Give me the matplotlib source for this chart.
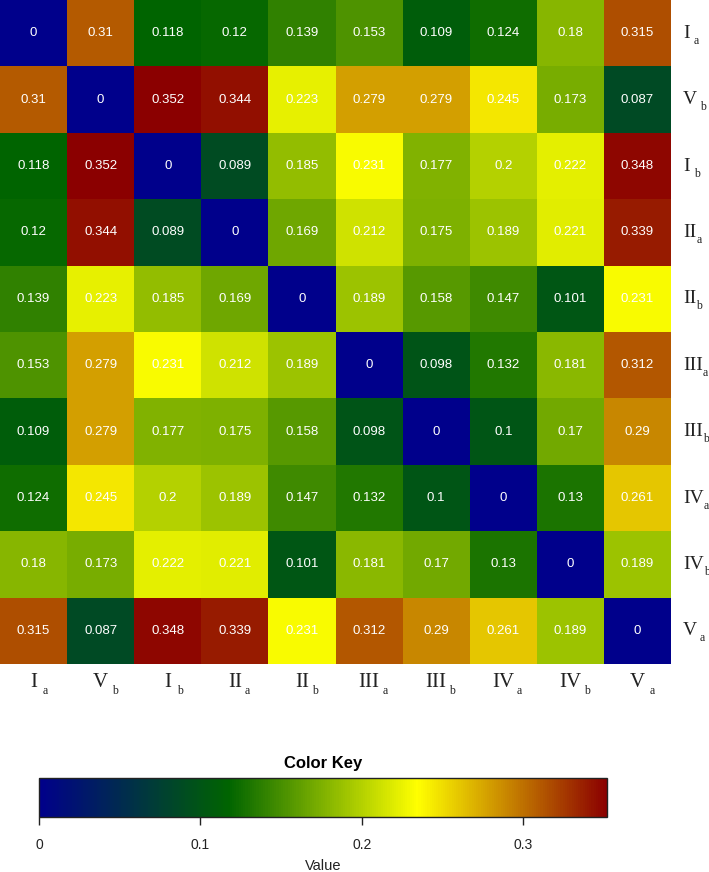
"""Distance heatmap with a horizontal colour key underneath."""

import matplotlib

matplotlib.use("Agg")
import matplotlib.pyplot as plt
import numpy as np
from matplotlib.colors import LinearSegmentedColormap, Normalize
from matplotlib.cm import ScalarMappable
from matplotlib.transforms import blended_transform_factory

plt.rcParams["font.family"] = ["Liberation Sans", "DejaVu Sans"]

# labels: roman numeral + subscript letter (same order for rows and columns)
numerals = ["I", "V", "I", "II", "II", "III", "III", "IV", "IV", "V"]
subscripts = ["a", "b", "b", "a", "b", "a", "b", "a", "b", "a"]

distances = np.array([
    [0, 0.31, 0.118, 0.12, 0.139, 0.153, 0.109, 0.124, 0.18, 0.315],
    [0.31, 0, 0.352, 0.344, 0.223, 0.279, 0.279, 0.245, 0.173, 0.087],
    [0.118, 0.352, 0, 0.089, 0.185, 0.231, 0.177, 0.2, 0.222, 0.348],
    [0.12, 0.344, 0.089, 0, 0.169, 0.212, 0.175, 0.189, 0.221, 0.339],
    [0.139, 0.223, 0.185, 0.169, 0, 0.189, 0.158, 0.147, 0.101, 0.231],
    [0.153, 0.279, 0.231, 0.212, 0.189, 0, 0.098, 0.132, 0.181, 0.312],
    [0.109, 0.279, 0.177, 0.175, 0.158, 0.098, 0, 0.1, 0.17, 0.29],
    [0.124, 0.245, 0.2, 0.189, 0.147, 0.132, 0.1, 0, 0.13, 0.261],
    [0.18, 0.173, 0.222, 0.221, 0.101, 0.181, 0.17, 0.13, 0, 0.189],
    [0.315, 0.087, 0.348, 0.339, 0.231, 0.312, 0.29, 0.261, 0.189, 0],
])

key_ticks = [0, 0.1, 0.2, 0.3]

W, H = 709, 872
cmap = LinearSegmentedColormap.from_list(
    "key", ["darkblue", "darkgreen", "yellow", "darkred"], N=256
)
norm = Normalize(vmin=0, vmax=distances.max())

fig = plt.figure(figsize=(W / 100, H / 100), dpi=100)

# heatmap occupies x 0..671 px, y 0..664 px (from top)
ax = fig.add_axes([0, 1 - 664 / H, 671 / W, 664 / H])
n = len(numerals)
ax.pcolormesh(np.arange(n + 1), np.arange(n + 1), distances, cmap=cmap, norm=norm)
ax.set_xlim(0, n)
ax.set_ylim(n, 0)
ax.axis("off")

for i in range(n):
    for j in range(n):
        ax.text(j + 0.5, i + 0.5, f"{distances[i, j]:g}", color="white",
                ha="center", va="center", fontsize=9.5)


def add_label(x, y, transform, numeral, sub, ha, size, gaps, gap_default):
    t = ax.text(x, y, numeral, transform=transform, ha=ha, va="center",
                family="Liberation Serif", fontsize=size, color="#222222")
    ax.annotate(sub, xy=(1, 0), xycoords=t,
                xytext=(gaps.get(numeral, gap_default), -1.5),
                textcoords="offset points", ha="left", va="baseline",
                annotation_clip=False, family="Liberation Serif",
                fontsize=8.5, color="#222222")


# column labels below the heatmap
col_tr = blended_transform_factory(ax.transData, fig.transFigure)
for j, (num, sub) in enumerate(zip(numerals, subscripts)):
    add_label(j + 0.5, 1 - 682 / H, col_tr, num, sub, "center",
              15, {"I": 4, "V": 3}, 2)

# row labels on the right
row_tr = blended_transform_factory(fig.transFigure, ax.transData)
for i, (num, sub) in enumerate(zip(numerals, subscripts)):
    add_label(683 / W, i + 0.5, row_tr, num, sub, "left",
              14, {"I": 3, "V": 2}, 0)

# colour key
cax = fig.add_axes([39 / W, 55 / H, 568 / W, 39 / H])
cb = fig.colorbar(ScalarMappable(norm=norm, cmap=cmap), cax=cax,
                  orientation="horizontal")
cb.set_ticks(key_ticks)
cb.set_ticklabels([f"{t:g}" for t in key_ticks])
cb.outline.set_linewidth(1)
cb.outline.set_edgecolor("#222222")
cax.tick_params(axis="x", direction="out", length=6, width=1, pad=9,
                labelsize=10, colors="#222222")
cax.set_title("Color Key", fontsize=12, fontweight="bold", pad=7)
fig.text((39 + 607) / 2 / W, 1 - 866 / H, "Value", ha="center", va="center",
         fontsize=10.5, color="#222222")

fig.savefig("out.png", dpi=100)
